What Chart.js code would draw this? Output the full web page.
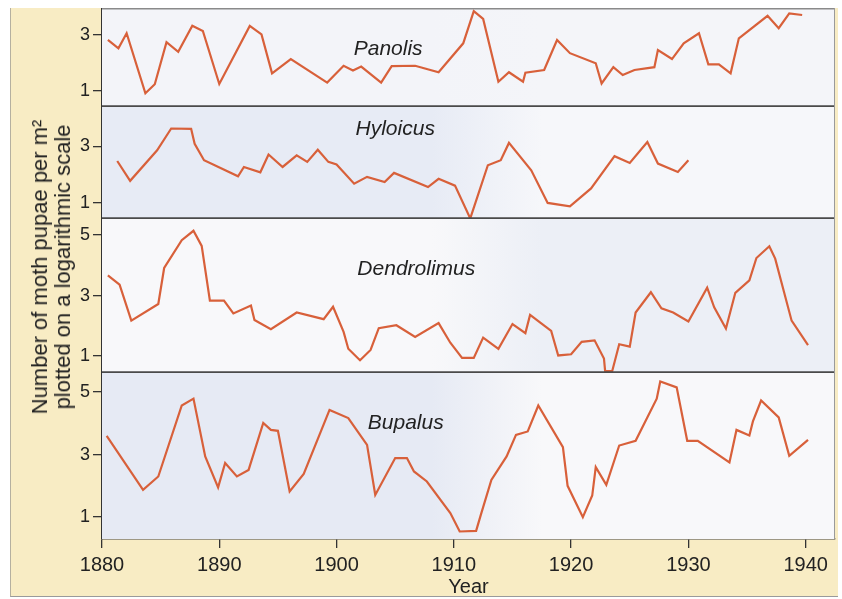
<!DOCTYPE html>
<html><head><meta charset="utf-8">
<script src="https://cdn.jsdelivr.net/npm/chart.js@4.4.1/dist/chart.umd.min.js"></script>
<style>
html,body{margin:0;padding:0;background:#fff;}
#wrap{position:relative;width:842px;height:599px;overflow:hidden;background:#fff;}
#beige{position:absolute;left:10px;top:8px;width:827px;height:588px;background:#f8ecc4;border-left:1px solid #b5b0a0;border-bottom:1px solid #9a9a9a;}
canvas{position:absolute;left:0;}
#ytitle{position:absolute;left:51px;top:267px;transform:translate(-50%,-50%) rotate(-90deg);white-space:nowrap;text-align:center;font:22px 'Liberation Sans',Arial,sans-serif;line-height:23px;color:#222;}
</style></head>
<body><div id="wrap"><div id="beige"></div>
<canvas id="c1" width="842" height="99" style="top:8px;width:842px;height:99px"></canvas>
<canvas id="c2" width="842" height="112" style="top:107px;width:842px;height:112px"></canvas>
<canvas id="c3" width="842" height="154" style="top:219px;width:842px;height:154px"></canvas>
<canvas id="c4" width="842" height="226" style="top:373px;width:842px;height:226px"></canvas>
<div id="ytitle">Number of moth pupae per m²<br>plotted on a logarithmic scale</div>
</div>
<script>
// ---- data (values are log-scale abundance) ----
const xTicks = [1880, 1890, 1900, 1910, 1920, 1930, 1940];
const yTicksSmall = [1, 3];
const yTicksLarge = [1, 3, 5];

const panolisYears = [1880.5,1881.4,1882.1,1883.7,1884.5,1885.5,1886.5,1887.7,1888.6,1890.0,1892.6,1893.6,1894.5,1896.1,1899.2,1900.6,1901.4,1902.1,1903.8,1904.7,1906.7,1908.7,1910.8,1911.7,1912.5,1913.8,1914.7,1915.9,1916.1,1917.7,1918.8,1919.9,1922.1,1922.6,1923.6,1924.4,1925.4,1927.1,1927.4,1928.6,1929.6,1930.9,1931.7,1932.6,1933.6,1934.3,1936.75,1937.7,1938.6,1939.7];
const panolisValues = [2.82,2.52,3.06,0.92,1.24,2.74,2.40,3.33,3.14,1.25,3.32,3.02,1.63,2.14,1.30,1.90,1.73,1.87,1.30,1.89,1.90,1.67,2.70,3.85,3.57,1.33,1.67,1.33,1.65,1.75,2.82,2.35,1.99,1.27,1.85,1.57,1.75,1.85,2.46,2.14,2.70,3.06,1.95,1.95,1.63,2.88,3.68,3.24,3.77,3.71];

const hyloicusYears = [1881.3,1882.4,1884.7,1885.9,1887.6,1887.9,1888.7,1891.6,1892.1,1893.5,1894.2,1895.4,1896.6,1897.5,1898.4,1899.3,1900.0,1901.5,1902.6,1904.1,1904.9,1907.8,1908.7,1910.1,1911.4,1912.9,1914.0,1914.7,1916.6,1918.0,1919.9,1921.7,1923.7,1925.0,1926.5,1927.4,1929.1,1930.0];
const hyloicusValues = [2.48,1.78,2.86,3.63,3.62,3.09,2.51,1.94,2.27,2.08,2.71,2.27,2.68,2.45,2.88,2.45,2.36,1.68,1.92,1.74,2.06,1.56,1.85,1.61,0.45,2.33,2.51,3.12,2.15,1.00,0.88,1.51,2.65,2.41,3.15,2.39,2.09,2.51];

const dendrolimusYears = [1880.5,1881.5,1882.5,1884.8,1885.3,1886.8,1887.8,1888.5,1889.2,1890.4,1891.2,1892.7,1893.0,1894.4,1896.6,1898.9,1899.7,1900.6,1901.0,1902.0,1902.9,1903.6,1905.1,1906.7,1908.7,1909.7,1910.7,1911.7,1912.5,1913.8,1915.0,1916.1,1916.5,1918.3,1918.9,1920.0,1920.9,1922.0,1922.8,1922.9,1923.5,1924.1,1925.0,1925.5,1926.8,1927.7,1928.7,1930.0,1931.6,1932.2,1933.2,1934.0,1935.2,1935.8,1936.9,1937.4,1938.8,1940.2];
const dendrolimusValues = [3.67,3.36,2.17,2.72,3.91,4.83,5.14,4.64,2.83,2.83,2.41,2.67,2.19,1.89,2.44,2.22,2.63,1.80,1.24,0.86,1.20,1.92,2.02,1.63,2.09,1.44,0.94,0.94,1.61,1.24,2.06,1.76,2.36,1.83,1.02,1.06,1.47,1.52,0.92,0.50,0.50,1.39,1.31,2.44,3.11,2.58,2.44,2.14,3.26,2.61,1.91,3.09,3.50,4.24,4.63,4.22,2.17,1.36];

const bupalusYears = [1880.4,1883.5,1884.8,1886.8,1887.8,1888.8,1889.9,1890.5,1891.5,1892.5,1893.75,1894.4,1895.0,1896.0,1897.2,1899.4,1901.0,1902.6,1903.3,1905.0,1906.0,1906.6,1907.7,1909.7,1910.5,1911.9,1912.3,1913.2,1914.5,1915.3,1916.3,1917.2,1919.3,1919.7,1921.0,1921.8,1922.1,1923.0,1924.1,1925.5,1927.3,1927.6,1929.0,1929.9,1930.8,1933.5,1934.1,1935.2,1935.5,1936.2,1937.7,1938.6,1940.2];
const bupalusValues = [3.60,1.87,2.30,4.57,4.79,2.94,1.95,2.73,2.30,2.51,4.01,3.79,3.76,1.82,2.38,4.43,4.17,3.31,1.71,2.89,2.89,2.46,2.14,1.13,0.54,0.56,1.07,2.19,2.94,3.63,3.74,4.57,3.24,2.00,1.00,1.69,2.60,2.03,3.29,3.44,4.79,5.34,5.15,3.44,3.44,2.75,3.79,3.61,4.06,4.73,4.19,2.96,3.47];

// ---- style ----
const FONT = "'Liberation Sans', Arial, Helvetica, sans-serif";
const LINE_COLOR = '#d8603a';
const AXIS_COLOR = '#333333';
const X_MIN = 1880, X_MAX = 1942.5;

const panels = [
  {id:'c1', name:'Panolis', years:panolisYears, values:panolisValues, min:0.43, max:3.96, ticks:yTicksSmall, label:[1904.4, 2.48], bg:['#f3f4f9','#f4f5f9'], first:true, last:false},
  {id:'c2', name:'Hyloicus', years:hyloicusYears, values:hyloicusValues, min:0.43, max:4.39, ticks:yTicksSmall, label:[1905.0, 3.6], bg:['#e7ebf5','#f6f7fa'], first:false, last:false},
  {id:'c3', name:'Dendrolimus', years:dendrolimusYears, values:dendrolimusValues, min:0.44, max:5.53, ticks:yTicksLarge, label:[1906.8, 3.86], bg:['#f8f8fa','#eceff6'], first:false, last:false},
  {id:'c4', name:'Bupalus', years:bupalusYears, values:bupalusValues, min:0.30, max:5.61, ticks:yTicksLarge, label:[1905.9, 4.02], bg:['#e6eaf4','#f8f8fa'], first:false, last:true}
];

const panelPlugin = {
  id: 'panelDeco',
  beforeDatasetsDraw(chart, args, opts) {
    const {ctx, chartArea: a} = chart;
    const g = ctx.createLinearGradient(a.left, 0, a.right, 0);
    g.addColorStop(0, opts.bg[0]);
    g.addColorStop(0.45, opts.bg[0]);
    g.addColorStop(0.6, opts.bg[1]);
    g.addColorStop(1, opts.bg[1]);
    ctx.save();
    ctx.fillStyle = g;
    ctx.fillRect(a.left, a.top, a.right - a.left, a.bottom - a.top);
    ctx.restore();
  },
  afterDatasetsDraw(chart, args, opts) {
    const {ctx, chartArea: a, scales} = chart;
    ctx.save();
    if (opts.first) {
      ctx.lineWidth = 1.5;
      ctx.strokeStyle = '#8a8a8a';
      ctx.beginPath(); ctx.moveTo(a.left, a.top + 0.75); ctx.lineTo(a.right, a.top + 0.75); ctx.stroke();
    }
    if (!opts.last) {
      ctx.lineWidth = 1.8;
      ctx.strokeStyle = '#4a4a4a';
      ctx.beginPath(); ctx.moveTo(a.left, a.bottom - 0.9); ctx.lineTo(a.right, a.bottom - 0.9); ctx.stroke();
    }
    ctx.strokeStyle = '#9a9a9a'; ctx.lineWidth = 1;
    ctx.beginPath(); ctx.moveTo(a.right - 0.5, a.top); ctx.lineTo(a.right - 0.5, a.bottom); ctx.stroke();
    ctx.fillStyle = '#222';
    ctx.font = 'italic 21px ' + FONT;
    ctx.textAlign = 'center';
    ctx.textBaseline = 'middle';
    ctx.fillText(opts.name, scales.x.getPixelForValue(opts.label[0]), scales.y.getPixelForValue(opts.label[1]));
    ctx.restore();
  }
};

panels.forEach(p => {
  const data = p.years.map((yr, i) => ({x: yr, y: p.values[i]}));
  new Chart(document.getElementById(p.id), {
    type: 'line',
    data: {datasets: [{data, borderColor: LINE_COLOR, borderWidth: 2.2, pointRadius: 0, tension: 0, fill: false, clip: false}]},
    options: {
      responsive: false,
      animation: false,
      layout: {padding: {left: 0, right: 7, top: 0, bottom: 0}},
      plugins: {legend: {display: false}, tooltip: {enabled: false},
        panelDeco: {name: p.name, label: p.label, bg: p.bg, first: p.first, last: p.last}},
      scales: {
        x: {
          type: 'linear', min: X_MIN, max: X_MAX, display: p.last,
          afterBuildTicks: s => { s.ticks = xTicks.map(v => ({value: v})); },
          afterFit: s => { s.height = p.last ? 60 : 0; s.paddingLeft = 0; s.paddingRight = 0; },
          grid: {drawOnChartArea: false, tickLength: 9, color: AXIS_COLOR, lineWidth: 1.3},
          border: {display: true, color: '#444', width: 1.5},
          ticks: {padding: 5, color: '#222', font: {family: FONT, size: 20}, maxRotation: 0, callback: v => String(v)},
          title: {display: true, text: 'Year', color: '#222', font: {family: FONT, size: 20}, padding: {top: 0, bottom: 0}}
        },
        y: {
          type: 'linear', min: p.min, max: p.max,
          afterBuildTicks: s => { s.ticks = p.ticks.map(v => ({value: v})); },
          afterFit: s => { s.width = 102; s.paddingTop = 0; s.paddingBottom = 0; },
          grid: {drawOnChartArea: false, tickLength: 9, color: AXIS_COLOR, lineWidth: 1.3},
          border: {display: true, color: AXIS_COLOR, width: 1.5},
          ticks: {padding: 3, color: '#222', font: {family: FONT, size: 18}, callback: v => String(v)}
        }
      }
    },
    plugins: [panelPlugin]
  });
});
</script>
</body></html>
